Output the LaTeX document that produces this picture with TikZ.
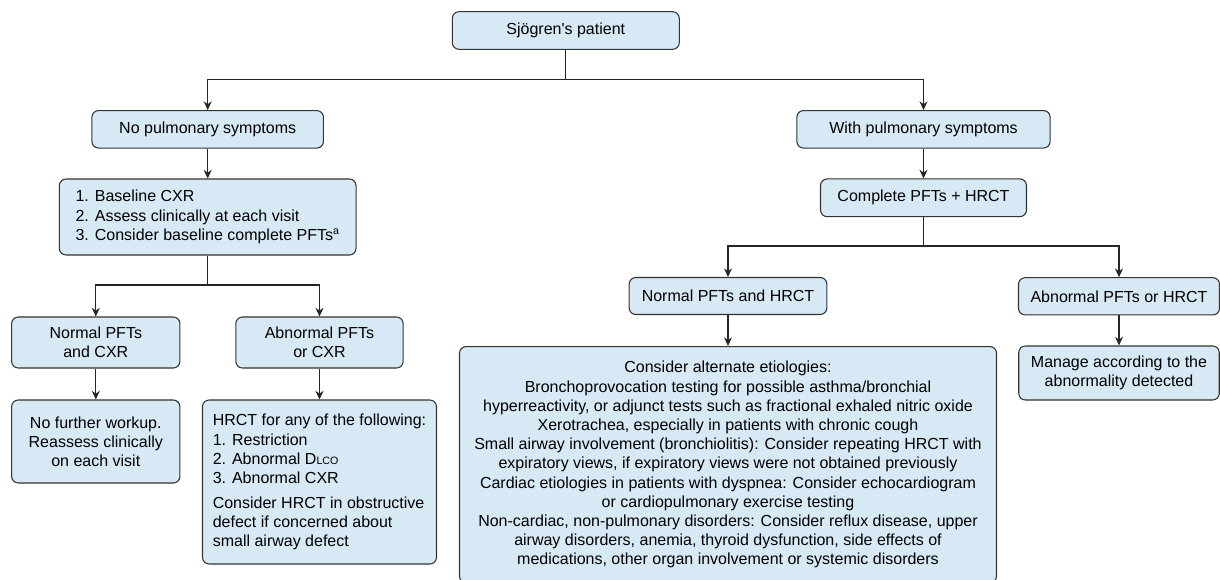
\documentclass[tikz,border=0pt]{standalone}
\usepackage{fontspec}
\setmainfont{Liberation Sans}[Ligatures=TeXOff]
\usetikzlibrary{arrows.meta}
\definecolor{boxblue}{RGB}{214,233,245}
\tikzset{
  flowbox/.style={draw=black!80, line width=0.8pt, fill=boxblue, rounded corners=5pt,
    align=center, inner sep=0pt, font=\fontsize{12}{14.4}\selectfont},
  link/.style={draw=black!85, line width=0.8pt},
  arr/.style={link, -{Stealth[length=6.5pt,width=6pt]}}
}
\def\px{0.75pt}
\def\lco{{\fontsize{8}{8}\selectfont LCO}}

\begin{document}
\begin{tikzpicture}[x=0.75pt, y=-0.75pt]
  \useasboundingbox (0,0) rectangle (1220,579);

  \node[flowbox, minimum width=227*\px, minimum height=37.6*\px] (root) at (565.8,30.5) {Sjögren's patient};

  \node[flowbox, minimum width=231.5*\px, minimum height=37.5*\px] (nopulm) at (207.7,129.3) {No pulmonary symptoms};
  \node[flowbox, minimum width=253.3*\px, minimum height=37.5*\px] (withpulm) at (923.5,129.3) {With pulmonary symptoms};

  \node[flowbox, align=left, minimum width=296.7*\px, minimum height=76*\px] (base) at (207.7,217)
    {1. Baseline CXR\\2. Assess clinically at each visit\\3. Consider baseline complete PFTs\textsuperscript{a}};
  \node[flowbox, minimum width=206*\px, minimum height=37.7*\px] (cplt) at (923.5,197.8) {Complete PFTs + HRCT};

  \node[flowbox, minimum width=168.3*\px, minimum height=51*\px] (normpft) at (95.8,342.5) {Normal PFTs\\and CXR};
  \node[flowbox, minimum width=167.3*\px, minimum height=51*\px] (abnpft) at (319.5,342.5) {Abnormal PFTs\\or CXR};
  \node[flowbox, minimum width=168.3*\px, minimum height=83*\px] (nofurther) at (95.8,441.5)
    {No further workup.\\Reassess clinically\\on each visit};
  \node[flowbox, align=left, minimum width=234*\px, minimum height=164*\px] (hrct) at (319.5,482)
    {HRCT for any of the following:\\1. Restriction\\2. Abnormal D\lco\\3. Abnormal CXR\\[4pt]
     Consider HRCT in obstructive\\defect if concerned about\\small airway defect};

  \node[flowbox, minimum width=197.7*\px, minimum height=37*\px] (normhrct) at (728,296) {Normal PFTs and HRCT};
  \node[flowbox, minimum width=201*\px, minimum height=37.3*\px] (abnhrct) at (1119,296.3) {Abnormal PFTs or HRCT};
  \node[flowbox, anchor=north, minimum width=537*\px, inner ysep=11pt] (altern) at (728,346)
    {Consider alternate etiologies:\\
     Bronchoprovocation testing for possible asthma/bronchial\\
     hyperreactivity, or adjunct tests such as fractional exhaled nitric oxide\\
     Xerotrachea, especially in patients with chronic cough\\
     Small airway involvement (bronchiolitis): Consider repeating HRCT with\\
     expiratory views, if expiratory views were not obtained previously\\
     Cardiac etiologies in patients with dyspnea: Consider echocardiogram\\
     or cardiopulmonary exercise testing\\
     Non-cardiac, non-pulmonary disorders: Consider reflux disease, upper\\
     airway disorders, anemia, thyroid dysfunction, side effects of\\
     medications, other organ involvement or systemic disorders};
  \node[flowbox, minimum width=200.5*\px, minimum height=54*\px] (manage) at (1119,373)
    {Manage according to the\\abnormality detected};

  \coordinate (s1) at (565.8,79.3);
  \coordinate (s2) at (207.7,285);
  \coordinate (s3) at (923.5,246);

  \draw[link] (root) -- (s1);
  \draw[link] (base) -- (s2);
  \draw[link] (cplt) -- (s3);
  \foreach \a/\b in {s1/nopulm, s1/withpulm, s2/normpft, s2/abnpft, s3/normhrct, s3/abnhrct}
    \draw[arr] (\a) -| (\b);
  \foreach \a/\b in {nopulm/base, withpulm/cplt, normpft/nofurther, abnpft/hrct, normhrct/altern, abnhrct/manage}
    \draw[arr] (\a) -- (\b);
\end{tikzpicture}
\end{document}
